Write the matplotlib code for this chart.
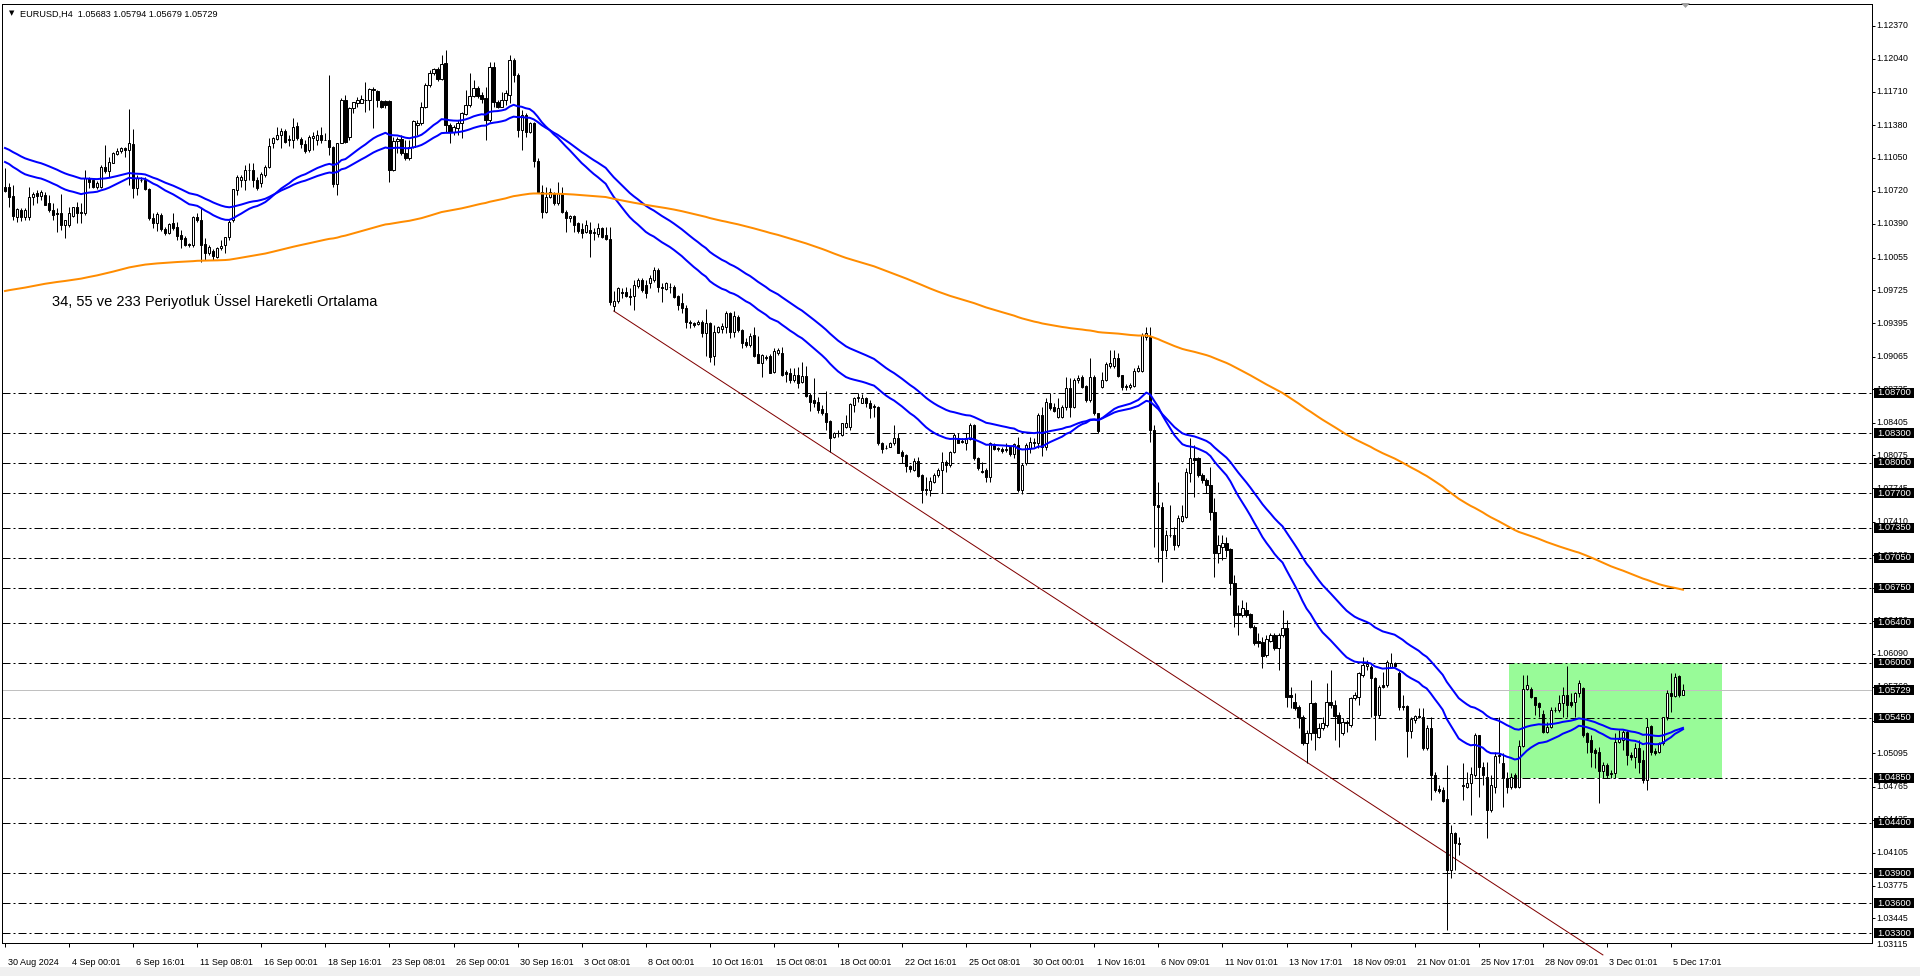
import numpy as np
import matplotlib
matplotlib.use('Agg')
import matplotlib.pyplot as plt
from matplotlib.patches import Rectangle, Polygon
import matplotlib.transforms as mtransforms

plt.rcParams['font.family'] = ['Liberation Sans', 'DejaVu Sans']
plt.rcParams['lines.scale_dashes'] = False

# ---------------- data ----------------
symbol = 'EURUSD,H4'
last_ohlc = [1.05683, 1.05794, 1.05679, 1.05729]
note = '34, 55 ve 233 Periyotluk Üssel Hareketli Ortalama'

opens = [
1.1076, 1.1076, 1.1067, 1.1046, 1.1053, 1.1046, 1.1046, 1.1066, 1.1070, 1.1067,
1.1068, 1.1060, 1.1053, 1.1050, 1.1050, 1.1038, 1.1038, 1.1047, 1.1056, 1.1051,
1.1050, 1.1085, 1.1083, 1.1076, 1.1076, 1.1096, 1.1092, 1.1100, 1.1109, 1.1112,
1.1115, 1.1113, 1.1119, 1.1075, 1.1083, 1.1083, 1.1074, 1.1045, 1.1040, 1.1048,
1.1034, 1.1030, 1.1040, 1.1036, 1.1028, 1.1025, 1.1019, 1.1018, 1.1046, 1.1043,
1.1019, 1.1010, 1.1012, 1.1006, 1.1015, 1.1018, 1.1026, 1.1043, 1.1073, 1.1083,
1.1083, 1.1093, 1.1093, 1.1083, 1.1080, 1.1088, 1.1096, 1.1120, 1.1124, 1.1128,
1.1132, 1.1123, 1.1123, 1.1137, 1.1124, 1.1119, 1.1113, 1.1125, 1.1123, 1.1128,
1.1123, 1.1123, 1.1116, 1.1079, 1.1120, 1.1163, 1.1126, 1.1155, 1.1160, 1.1160,
1.1163, 1.1163, 1.1174, 1.1172, 1.1162, 1.1162, 1.1162, 1.1093, 1.1122, 1.1124,
1.1110, 1.1105, 1.1116, 1.1138, 1.1140, 1.1156, 1.1178, 1.1190, 1.1194, 1.1184,
1.1200, 1.1138, 1.1131, 1.1135, 1.1140, 1.1149, 1.1158, 1.1167, 1.1175, 1.1168,
1.1165, 1.1143, 1.1196, 1.1161, 1.1156, 1.1163, 1.1168, 1.1203, 1.1188, 1.1133,
1.1148, 1.1131, 1.1140, 1.1102, 1.1071, 1.1051, 1.1066, 1.1070, 1.1060, 1.1070,
1.1051, 1.1045, 1.1047, 1.1040, 1.1034, 1.1031, 1.1033, 1.1030, 1.1029, 1.1035,
1.1028, 1.1024, 1.0957, 1.0962, 1.0971, 1.0971, 1.0967, 1.0967, 1.0977, 1.0983,
1.0978, 1.0980, 1.0983, 1.0993, 1.0976, 1.0974, 1.0976, 1.0976, 1.0967, 1.0960,
1.0955, 1.0941, 1.0940, 1.0939, 1.0941, 1.0930, 1.0940, 1.0907, 1.0931, 1.0934,
1.0936, 1.0950, 1.0931, 1.0946, 1.0933, 1.0921, 1.0918, 1.0928, 1.0909, 1.0900,
1.0906, 1.0907, 1.0891, 1.0910, 1.0910, 1.0891, 1.0890, 1.0883, 1.0888, 1.0881,
1.0887, 1.0868, 1.0863, 1.0861, 1.0854, 1.0850, 1.0842, 1.0826, 1.0830, 1.0828,
1.0836, 1.0836, 1.0858, 1.0865, 1.0860, 1.0865, 1.0860, 1.0857, 1.0856, 1.0820,
1.0815, 1.0816, 1.0820, 1.0825, 1.0811, 1.0808, 1.0797, 1.0793, 1.0802, 1.0788,
1.0774, 1.0773, 1.0781, 1.0788, 1.0793, 1.0801, 1.0798, 1.0811, 1.0825, 1.0822,
1.0820, 1.0824, 1.0838, 1.0805, 1.0792, 1.0793, 1.0786, 1.0818, 1.0815, 1.0814,
1.0813, 1.0816, 1.0809, 1.0818, 1.0773, 1.0800, 1.0815, 1.0821, 1.0820, 1.0848,
1.0816, 1.0860, 1.0856, 1.0846, 1.0846, 1.0856, 1.0875, 1.0856, 1.0883, 1.0886,
1.0877, 1.0863, 1.0886, 1.0850, 1.0876, 1.0883, 1.0897, 1.0897, 1.0905, 1.0888,
1.0877, 1.0876, 1.0877, 1.0892, 1.0892, 1.0926, 1.0926, 1.0833, 1.0758, 1.0756,
1.0713, 1.0728, 1.0728, 1.0718, 1.0742, 1.0746, 1.0790, 1.0805, 1.0805, 1.0788,
1.0783, 1.0778, 1.0751, 1.0710, 1.0716, 1.0720, 1.0714, 1.0680, 1.0650, 1.0648,
1.0653, 1.0649, 1.0636, 1.0622, 1.0621, 1.0608, 1.0622, 1.0628, 1.0615, 1.0628,
1.0635, 1.0568, 1.0561, 1.0556, 1.0546, 1.0520, 1.0530, 1.0560, 1.0526, 1.0535,
1.0538, 1.0561, 1.0558, 1.0548, 1.0530, 1.0541, 1.0538, 1.0565, 1.0566, 1.0588,
1.0597, 1.0596, 1.0585, 1.0548, 1.0578, 1.0578, 1.0596, 1.0600, 1.0590, 1.0557,
1.0557, 1.0532, 1.0543, 1.0547, 1.0546, 1.0515, 1.0535, 1.0488, 1.0474, 1.0473,
1.0464, 1.0393, 1.0430, 1.0420, 1.0478, 1.0476, 1.0480, 1.0488, 1.0528, 1.0496,
1.0486, 1.0453, 1.0476, 1.0507, 1.0500, 1.0485, 1.0476, 1.0488, 1.0476, 1.0517,
1.0574, 1.0574, 1.0566, 1.0560, 1.0549, 1.0531, 1.0536, 1.0553, 1.0553, 1.0560,
1.0568, 1.0561, 1.0561, 1.0570, 1.0575, 1.0530, 1.0523, 1.0513, 1.0511, 1.0492,
1.0498, 1.0489, 1.0490, 1.0521, 1.0523, 1.0531, 1.0508, 1.0506, 1.0515, 1.0503,
1.0483, 1.0537, 1.0512, 1.0511, 1.0520, 1.0546, 1.0570, 1.0567, 1.0587, 1.05683]

highs = [
1.1095, 1.1080, 1.1078, 1.1055, 1.1055, 1.1055, 1.1076, 1.1071, 1.1073, 1.1073,
1.1071, 1.1068, 1.1060, 1.1055, 1.1069, 1.1043, 1.1056, 1.1056, 1.1061, 1.1060,
1.1093, 1.1086, 1.1085, 1.1082, 1.1098, 1.1118, 1.1106, 1.1111, 1.1115, 1.1116,
1.1116, 1.1154, 1.1134, 1.1088, 1.1086, 1.1086, 1.1075, 1.1050, 1.1051, 1.1050,
1.1036, 1.1040, 1.1050, 1.1041, 1.1033, 1.1027, 1.1020, 1.1047, 1.1050, 1.1055,
1.1025, 1.1018, 1.1014, 1.1016, 1.1023, 1.1026, 1.1043, 1.1074, 1.1088, 1.1088,
1.1098, 1.1100, 1.1100, 1.1086, 1.1091, 1.1098, 1.1125, 1.1126, 1.1136, 1.1135,
1.1134, 1.1128, 1.1145, 1.1141, 1.1126, 1.1123, 1.1128, 1.1131, 1.1133, 1.1136,
1.1130, 1.1188, 1.1117, 1.1120, 1.1165, 1.1168, 1.1156, 1.1161, 1.1166, 1.1168,
1.1181, 1.1175, 1.1176, 1.1173, 1.1163, 1.1163, 1.1163, 1.1126, 1.1126, 1.1128,
1.1123, 1.1123, 1.1143, 1.1143, 1.1161, 1.1180, 1.1193, 1.1195, 1.1196, 1.1208,
1.1213, 1.1140, 1.1138, 1.1143, 1.1151, 1.1173, 1.1190, 1.1183, 1.1177, 1.1171,
1.1176, 1.1201, 1.1201, 1.1163, 1.1171, 1.1173, 1.1208, 1.1205, 1.1190, 1.1153,
1.1150, 1.1141, 1.1141, 1.1105, 1.1078, 1.1076, 1.1075, 1.1071, 1.1081, 1.1076,
1.1053, 1.1048, 1.1048, 1.1041, 1.1040, 1.1043, 1.1041, 1.1035, 1.1040, 1.1036,
1.1036, 1.1036, 1.0972, 1.0976, 1.0975, 1.0976, 1.0975, 1.0983, 1.0985, 1.0985,
1.0983, 1.0988, 1.0996, 1.0995, 1.0980, 1.0981, 1.0980, 1.0978, 1.0968, 1.0970,
1.0958, 1.0943, 1.0941, 1.0943, 1.0943, 1.0954, 1.0941, 1.0938, 1.0937, 1.0940,
1.0952, 1.0951, 1.0952, 1.0948, 1.0934, 1.0925, 1.0930, 1.0936, 1.0927, 1.0909,
1.0908, 1.0909, 1.0915, 1.0915, 1.0916, 1.0893, 1.0895, 1.0895, 1.0896, 1.0901,
1.0897, 1.0870, 1.0885, 1.0866, 1.0858, 1.0872, 1.0843, 1.0831, 1.0833, 1.0840,
1.0848, 1.0860, 1.0866, 1.0870, 1.0869, 1.0866, 1.0863, 1.0859, 1.0857, 1.0821,
1.0818, 1.0821, 1.0838, 1.0830, 1.0813, 1.0809, 1.0798, 1.0805, 1.0806, 1.0789,
1.0786, 1.0786, 1.0790, 1.0795, 1.0811, 1.0803, 1.0812, 1.0830, 1.0830, 1.0825,
1.0830, 1.0840, 1.0839, 1.0806, 1.0801, 1.0795, 1.0821, 1.0820, 1.0816, 1.0816,
1.0820, 1.0817, 1.0820, 1.0826, 1.0800, 1.0820, 1.0826, 1.0825, 1.0850, 1.0856,
1.0865, 1.0870, 1.0860, 1.0865, 1.0858, 1.0886, 1.0885, 1.0885, 1.0888, 1.0888,
1.0878, 1.0905, 1.0888, 1.0850, 1.0891, 1.0901, 1.0913, 1.0913, 1.0910, 1.0888,
1.0879, 1.0880, 1.0895, 1.0898, 1.0930, 1.0936, 1.0936, 1.0838, 1.0781, 1.0761,
1.0733, 1.0758, 1.0736, 1.0748, 1.0758, 1.0795, 1.0825, 1.0818, 1.0806, 1.0790,
1.0785, 1.0796, 1.0765, 1.0728, 1.0728, 1.0726, 1.0715, 1.0688, 1.0658, 1.0663,
1.0661, 1.0650, 1.0638, 1.0630, 1.0626, 1.0628, 1.0630, 1.0630, 1.0630, 1.0653,
1.0643, 1.0576, 1.0570, 1.0558, 1.0548, 1.0533, 1.0583, 1.0561, 1.0540, 1.0546,
1.0580, 1.0593, 1.0563, 1.0551, 1.0545, 1.0543, 1.0566, 1.0571, 1.0591, 1.0606,
1.0603, 1.0598, 1.0586, 1.0578, 1.0591, 1.0603, 1.0610, 1.0601, 1.0592, 1.0568,
1.0558, 1.0546, 1.0548, 1.0555, 1.0555, 1.0538, 1.0546, 1.0491, 1.0478, 1.0476,
1.0498, 1.0438, 1.0431, 1.0426, 1.0500, 1.0491, 1.0496, 1.0530, 1.0528, 1.0501,
1.0501, 1.0488, 1.0511, 1.0546, 1.0510, 1.0491, 1.0490, 1.0490, 1.0523, 1.0588,
1.0588, 1.0576, 1.0566, 1.0561, 1.0553, 1.0541, 1.0556, 1.0556, 1.0568, 1.0576,
1.0597, 1.0570, 1.0571, 1.0583, 1.0576, 1.0531, 1.0528, 1.0515, 1.0516, 1.0501,
1.0500, 1.0493, 1.0530, 1.0533, 1.0533, 1.0533, 1.0511, 1.0520, 1.0523, 1.0513,
1.0545, 1.0538, 1.0515, 1.0521, 1.0546, 1.0573, 1.0590, 1.0590, 1.0588, 1.05794]

lows = [
1.1071, 1.1056, 1.1043, 1.1041, 1.1042, 1.1043, 1.1043, 1.1058, 1.1060, 1.1063,
1.1058, 1.1051, 1.1043, 1.1031, 1.1033, 1.1025, 1.1036, 1.1046, 1.1040, 1.1040,
1.1048, 1.1075, 1.1075, 1.1074, 1.1075, 1.1090, 1.1086, 1.1100, 1.1108, 1.1110,
1.1106, 1.1078, 1.1065, 1.1068, 1.1081, 1.1073, 1.1043, 1.1035, 1.1032, 1.1032,
1.1028, 1.1029, 1.1033, 1.1023, 1.1015, 1.1017, 1.1016, 1.1016, 1.1041, 1.1001,
1.1003, 1.1008, 1.1003, 1.1005, 1.1013, 1.1010, 1.1023, 1.1041, 1.1068, 1.1076,
1.1073, 1.1083, 1.1076, 1.1073, 1.1076, 1.1086, 1.1095, 1.1115, 1.1123, 1.1115,
1.1120, 1.1117, 1.1115, 1.1123, 1.1115, 1.1110, 1.1111, 1.1113, 1.1118, 1.1120,
1.1123, 1.1108, 1.1076, 1.1068, 1.1120, 1.1120, 1.1123, 1.1150, 1.1156, 1.1160,
1.1151, 1.1153, 1.1135, 1.1156, 1.1155, 1.1155, 1.1081, 1.1092, 1.1110, 1.1108,
1.1103, 1.1103, 1.1115, 1.1128, 1.1138, 1.1155, 1.1176, 1.1188, 1.1182, 1.1183,
1.1131, 1.1120, 1.1128, 1.1128, 1.1125, 1.1148, 1.1156, 1.1166, 1.1165, 1.1160,
1.1123, 1.1141, 1.1156, 1.1155, 1.1156, 1.1158, 1.1160, 1.1181, 1.1126, 1.1113,
1.1126, 1.1130, 1.1096, 1.1070, 1.1045, 1.1050, 1.1065, 1.1058, 1.1058, 1.1050,
1.1031, 1.1041, 1.1031, 1.1030, 1.1025, 1.1030, 1.1006, 1.1023, 1.1026, 1.1025,
1.1023, 1.0958, 1.0952, 1.0960, 1.0965, 1.0966, 1.0958, 1.0953, 1.0975, 1.0971,
1.0965, 1.0975, 1.0981, 1.0971, 1.0961, 1.0973, 1.0970, 1.0965, 1.0953, 1.0950,
1.0935, 1.0935, 1.0936, 1.0938, 1.0926, 1.0907, 1.0901, 1.0898, 1.0930, 1.0930,
1.0930, 1.0925, 1.0926, 1.0931, 1.0915, 1.0916, 1.0916, 1.0906, 1.0900, 1.0886,
1.0903, 1.0890, 1.0890, 1.0908, 1.0887, 1.0881, 1.0880, 1.0881, 1.0875, 1.0880,
1.0866, 1.0852, 1.0856, 1.0850, 1.0848, 1.0833, 1.0811, 1.0825, 1.0826, 1.0827,
1.0835, 1.0833, 1.0851, 1.0861, 1.0860, 1.0856, 1.0845, 1.0846, 1.0818, 1.0810,
1.0814, 1.0816, 1.0818, 1.0810, 1.0800, 1.0791, 1.0791, 1.0792, 1.0786, 1.0760,
1.0768, 1.0767, 1.0780, 1.0786, 1.0770, 1.0791, 1.0796, 1.0810, 1.0820, 1.0820,
1.0813, 1.0823, 1.0803, 1.0793, 1.0790, 1.0781, 1.0781, 1.0813, 1.0812, 1.0810,
1.0811, 1.0807, 1.0805, 1.0771, 1.0769, 1.0798, 1.0810, 1.0816, 1.0815, 1.0807,
1.0813, 1.0853, 1.0851, 1.0845, 1.0845, 1.0853, 1.0846, 1.0855, 1.0880, 1.0875,
1.0861, 1.0861, 1.0848, 1.0830, 1.0875, 1.0882, 1.0895, 1.0895, 1.0886, 1.0873,
1.0873, 1.0874, 1.0876, 1.0891, 1.0891, 1.0923, 1.0821, 1.0716, 1.0701, 1.0681,
1.0706, 1.0726, 1.0713, 1.0716, 1.0741, 1.0745, 1.0781, 1.0766, 1.0786, 1.0780,
1.0770, 1.0743, 1.0686, 1.0700, 1.0703, 1.0706, 1.0668, 1.0636, 1.0628, 1.0646,
1.0646, 1.0635, 1.0618, 1.0616, 1.0595, 1.0606, 1.0621, 1.0613, 1.0593, 1.0626,
1.0556, 1.0555, 1.0553, 1.0535, 1.0518, 1.0500, 1.0523, 1.0513, 1.0525, 1.0533,
1.0536, 1.0555, 1.0523, 1.0516, 1.0528, 1.0531, 1.0536, 1.0563, 1.0558, 1.0586,
1.0593, 1.0546, 1.0523, 1.0545, 1.0575, 1.0576, 1.0595, 1.0596, 1.0553, 1.0553,
1.0506, 1.0525, 1.0540, 1.0545, 1.0513, 1.0513, 1.0463, 1.0471, 1.0470, 1.0461,
1.0333, 1.0385, 1.0393, 1.0408, 1.0463, 1.0475, 1.0448, 1.0486, 1.0466, 1.0478,
1.0425, 1.0451, 1.0470, 1.0500, 1.0456, 1.0470, 1.0474, 1.0475, 1.0475, 1.0516,
1.0573, 1.0565, 1.0548, 1.0546, 1.0530, 1.0530, 1.0535, 1.0551, 1.0551, 1.0546,
1.0546, 1.0556, 1.0546, 1.0566, 1.0526, 1.0510, 1.0496, 1.0495, 1.0460, 1.0485,
1.0485, 1.0485, 1.0485, 1.0520, 1.0513, 1.0498, 1.0503, 1.0495, 1.0490, 1.0480,
1.0473, 1.0508, 1.0508, 1.0510, 1.0518, 1.0543, 1.0551, 1.0566, 1.0566, 1.05679]

closes = [
1.1072, 1.1066, 1.1047, 1.1054, 1.1046, 1.1053, 1.1066, 1.1069, 1.1067, 1.1071,
1.1058, 1.1053, 1.1048, 1.1049, 1.1038, 1.1043, 1.1050, 1.1056, 1.1050, 1.1050,
1.1085, 1.1081, 1.1076, 1.1080, 1.1096, 1.1092, 1.1101, 1.1110, 1.1112, 1.1115,
1.1113, 1.1120, 1.1075, 1.1085, 1.1083, 1.1074, 1.1045, 1.1040, 1.1049, 1.1034,
1.1030, 1.1039, 1.1035, 1.1027, 1.1024, 1.1018, 1.1018, 1.1046, 1.1043, 1.1018,
1.1010, 1.1016, 1.1007, 1.1015, 1.1017, 1.1026, 1.1041, 1.1074, 1.1086, 1.1086,
1.1093, 1.1093, 1.1083, 1.1075, 1.1089, 1.1096, 1.1117, 1.1125, 1.1128, 1.1132,
1.1121, 1.1124, 1.1136, 1.1125, 1.1119, 1.1112, 1.1126, 1.1127, 1.1128, 1.1123,
1.1123, 1.1116, 1.1079, 1.1120, 1.1163, 1.1121, 1.1155, 1.1161, 1.1163, 1.1164,
1.1163, 1.1174, 1.1173, 1.1163, 1.1156, 1.1158, 1.1093, 1.1122, 1.1124, 1.1110,
1.1105, 1.1116, 1.1142, 1.1140, 1.1156, 1.1178, 1.1190, 1.1194, 1.1184, 1.1199,
1.1138, 1.1131, 1.1136, 1.1140, 1.1150, 1.1158, 1.1167, 1.1175, 1.1167, 1.1164,
1.1143, 1.1196, 1.1161, 1.1156, 1.1163, 1.1170, 1.1203, 1.1188, 1.1133, 1.1148,
1.1131, 1.1140, 1.1102, 1.1071, 1.1051, 1.1066, 1.1071, 1.1060, 1.1070, 1.1051,
1.1045, 1.1047, 1.1038, 1.1032, 1.1030, 1.1038, 1.1030, 1.1031, 1.1035, 1.1026,
1.1024, 1.0961, 1.0962, 1.0975, 1.0970, 1.0967, 1.0966, 1.0978, 1.0983, 1.0973,
1.0970, 1.0985, 1.0993, 1.0976, 1.0975, 1.0980, 1.0976, 1.0966, 1.0958, 1.0955,
1.0941, 1.0940, 1.0938, 1.0941, 1.0930, 1.0940, 1.0906, 1.0931, 1.0936, 1.0937,
1.0950, 1.0931, 1.0947, 1.0933, 1.0920, 1.0918, 1.0927, 1.0907, 1.0900, 1.0908,
1.0905, 1.0890, 1.0912, 1.0913, 1.0888, 1.0889, 1.0883, 1.0888, 1.0880, 1.0887,
1.0867, 1.0861, 1.0860, 1.0853, 1.0850, 1.0841, 1.0825, 1.0830, 1.0830, 1.0840,
1.0840, 1.0859, 1.0865, 1.0866, 1.0865, 1.0860, 1.0855, 1.0856, 1.0820, 1.0814,
1.0815, 1.0820, 1.0825, 1.0810, 1.0807, 1.0797, 1.0794, 1.0802, 1.0787, 1.0773,
1.0773, 1.0782, 1.0788, 1.0793, 1.0801, 1.0798, 1.0811, 1.0828, 1.0820, 1.0821,
1.0825, 1.0838, 1.0805, 1.0795, 1.0791, 1.0786, 1.0820, 1.0814, 1.0814, 1.0812,
1.0814, 1.0809, 1.0819, 1.0773, 1.0798, 1.0818, 1.0821, 1.0820, 1.0848, 1.0816,
1.0861, 1.0855, 1.0852, 1.0855, 1.0856, 1.0875, 1.0856, 1.0883, 1.0885, 1.0876,
1.0863, 1.0886, 1.0850, 1.0832, 1.0883, 1.0899, 1.0900, 1.0905, 1.0887, 1.0876,
1.0876, 1.0878, 1.0892, 1.0895, 1.0928, 1.0930, 1.0833, 1.0758, 1.0756, 1.0713,
1.0728, 1.0728, 1.0718, 1.0745, 1.0747, 1.0791, 1.0805, 1.0803, 1.0788, 1.0783,
1.0778, 1.0751, 1.0710, 1.0718, 1.0720, 1.0713, 1.0680, 1.0648, 1.0648, 1.0655,
1.0648, 1.0636, 1.0620, 1.0620, 1.0607, 1.0624, 1.0628, 1.0615, 1.0628, 1.0635,
1.0566, 1.0566, 1.0555, 1.0546, 1.0520, 1.0530, 1.0560, 1.0530, 1.0535, 1.0540,
1.0561, 1.0558, 1.0547, 1.0540, 1.0541, 1.0540, 1.0565, 1.0568, 1.0590, 1.0598,
1.0599, 1.0585, 1.0548, 1.0576, 1.0576, 1.0601, 1.0600, 1.0597, 1.0556, 1.0556,
1.0532, 1.0544, 1.0547, 1.0546, 1.0515, 1.0535, 1.0488, 1.0473, 1.0472, 1.0462,
1.0393, 1.0430, 1.0420, 1.0419, 1.0477, 1.0480, 1.0489, 1.0528, 1.0496, 1.0488,
1.0453, 1.0478, 1.0507, 1.0508, 1.0485, 1.0476, 1.0486, 1.0476, 1.0517, 1.0574,
1.0578, 1.0566, 1.0558, 1.0556, 1.0531, 1.0536, 1.0553, 1.0553, 1.0560, 1.0568,
1.0558, 1.0558, 1.0570, 1.0580, 1.0528, 1.0521, 1.0511, 1.0510, 1.0492, 1.0498,
1.0488, 1.0490, 1.0521, 1.0524, 1.0531, 1.0508, 1.0506, 1.0515, 1.0501, 1.0483,
1.0536, 1.0511, 1.0510, 1.0520, 1.0546, 1.0570, 1.0567, 1.0586, 1.0568, 1.05729]

date_labels = ['30 Aug 2024', '4 Sep 00:01', '6 Sep 16:01', '11 Sep 08:01', '16 Sep 00:01',
               '18 Sep 16:01', '23 Sep 08:01', '26 Sep 00:01', '30 Sep 16:01', '3 Oct 08:01',
               '8 Oct 00:01', '10 Oct 16:01', '15 Oct 08:01', '18 Oct 00:01', '22 Oct 16:01',
               '25 Oct 08:01', '30 Oct 00:01', '1 Nov 16:01', '6 Nov 09:01', '11 Nov 01:01',
               '13 Nov 17:01', '18 Nov 09:01', '21 Nov 01:01', '25 Nov 17:01', '28 Nov 09:01',
               '3 Dec 01:01', '5 Dec 17:01']
bars_per_label = 16

price_ticks = [1.12370, 1.12040, 1.11710, 1.11380, 1.11050, 1.10720, 1.10390, 1.10055,
               1.09725, 1.09395, 1.09065, 1.08735, 1.08405, 1.08075, 1.07745, 1.07410,
               1.07080, 1.06750, 1.06420, 1.06090, 1.05760, 1.05425, 1.05095, 1.04765,
               1.04435, 1.04105, 1.03775, 1.03445, 1.03115]

level_lines = [1.08700, 1.08300, 1.08000, 1.07700, 1.07350, 1.07050, 1.06750, 1.06400,
               1.06000, 1.05450, 1.04850, 1.04400, 1.03900, 1.03600, 1.03300]
bid_price = 1.05729

ema_periods = [34, 55, 233]
ema_first = [1.1101, 1.1115, 1.0972]      # EMA values at the first bar
ema_colors = ['#0000FF', '#0000FF', '#FF8C00']

trend_bars = [152, 325]
trend_prices = [1.0952, 1.0501]
trend_end_bar = 399                        # the ray stops at the bottom of the window

zone_bars = [375.5, 428.7]
zone_prices = [1.0485, 1.0600]

# ---------------- figure ----------------
W, H, DPI = 1920, 976, 100
fig = plt.figure(figsize=(W / DPI, H / DPI), dpi=DPI)
fig.patch.set_facecolor('white')
L_PX, R_PX, T_PX, B_PX = 2, 1872, 4, 943
ax = fig.add_axes([L_PX / W, 1 - B_PX / H, (R_PX - L_PX) / W, (B_PX - T_PX) / H])
PX = 72.0 / DPI  # one pixel in points

O = np.array(opens); Hi = np.array(highs); Lo = np.array(lows); C = np.array(closes)
n = len(C)
x = np.arange(n)

Y0, Y1 = 1.0320, 1.1259
ax.set_xlim(-0.75, 466.2)
ax.set_ylim(Y0, Y1)
px_price = (Y1 - Y0) / (B_PX - T_PX)   # price per pixel

# zone rectangle
ax.add_patch(Rectangle((zone_bars[0], zone_prices[0]), zone_bars[1] - zone_bars[0],
                       zone_prices[1] - zone_prices[0], facecolor='#98FB98',
                       edgecolor='none', zorder=1))

# bid line
ax.axhline(bid_price, color='#C0C0C0', lw=PX, zorder=1.5)

# horizontal levels (dash-dot)
for lv in level_lines:
    ax.axhline(lv, color='black', lw=PX, zorder=2,
               dashes=(8 * PX, 3 * PX, 2 * PX, 3 * PX))

# trend line (ray to the right, runs past the plot bottom into the time scale)
slope = (trend_prices[1] - trend_prices[0]) / (trend_bars[1] - trend_bars[0])
ax.plot([trend_bars[0], trend_end_bar],
        [trend_prices[0], trend_prices[0] + slope * (trend_end_bar - trend_bars[0])],
        color='#800000', lw=PX, zorder=2.5, clip_on=False)

# candles
ax.vlines(x, Lo, Hi, color='black', lw=PX, zorder=3)
up = C >= O
bw = 0.55
ax.bar(x[up], (C - O)[up], bottom=O[up], width=bw, facecolor='white',
       edgecolor='black', linewidth=PX, zorder=4)
ax.bar(x[~up], (O - C)[~up], bottom=C[~up], width=bw, facecolor='black',
       edgecolor='black', linewidth=PX, zorder=4)

# EMAs
for per, first, col in zip(ema_periods, ema_first, ema_colors):
    a = 2.0 / (per + 1)
    e = [first]
    for v in C[1:]:
        e.append(e[-1] + a * (v - e[-1]))
    ax.plot(x, e, color=col, lw=2 * PX, zorder=5)

# axes styling
for sp in ax.spines.values():
    sp.set_color('black')
    sp.set_linewidth(PX)
ax.set_facecolor('none')

ax.set_xticks(np.arange(0, len(date_labels) * bars_per_label, bars_per_label))
ax.set_xticklabels(date_labels)
ax.tick_params(axis='x', direction='out', length=4 * PX, width=PX, pad=8.0,
               labelsize=6.5, colors='black')
off = mtransforms.ScaledTranslation(2.5 / DPI, 0, fig.dpi_scale_trans)
for lbl in ax.get_xticklabels():
    lbl.set_horizontalalignment('left')
    lbl.set_transform(lbl.get_transform() + off)

ax.yaxis.tick_right()
ax.set_yticks([v for v in price_ticks if v >= Y0])
ax.set_yticklabels([])
ax.tick_params(axis='y', direction='out', length=3 * PX, width=PX)

blend = mtransforms.blended_transform_factory(ax.transAxes, ax.transData)
lab_x = (1876 - L_PX) / (R_PX - L_PX)
for v in price_ticks:
    yv = max(v, Y0 - 2 * px_price)
    ax.text(lab_x, yv, '%.5f' % v, transform=blend, ha='left', va='center',
            fontsize=6.3, color='black', clip_on=False, zorder=6)

box_x0 = (1874 - L_PX) / (R_PX - L_PX)
box_w = 40.0 / (R_PX - L_PX)
box_h = 10 * px_price
for v in level_lines + [bid_price]:
    ax.add_patch(Rectangle((box_x0, v - box_h / 2), box_w, box_h, transform=blend,
                           facecolor='black', edgecolor='none', clip_on=False, zorder=7))
    ax.text(box_x0 + box_w / 2, v, '%.5f' % v, transform=blend, ha='center',
            va='center', fontsize=6.7, color='white', clip_on=False, zorder=8)

# header and note
fig.text(9 / W, 1 - 13.5 / H, '\u25BC', fontsize=5, family='DejaVu Sans',
         va='center', ha='left', color='black')
fig.text(20.5 / W, 1 - 16.8 / H,
         symbol + '  ' + ' '.join('%.5f' % v for v in last_ohlc),
         fontsize=6.6, va='baseline', ha='left', color='black')
fig.text(52.5 / W, 1 - 306 / H, note, fontsize=10.5, va='baseline', ha='left',
         color='black')

# chart-shift marker and bottom strip
fig.patches.append(Polygon([[1681 / W, 1 - 3 / H], [1690 / W, 1 - 3 / H], [1685.5 / W, 1 - 8 / H]],
                           closed=True, transform=fig.transFigure, facecolor='#A0A0A0',
                           edgecolor='none'))
fig.patches.append(Rectangle((0, 0), 1, 9 / H, transform=fig.transFigure,
                             facecolor='#F0F0F0', edgecolor='none'))

fig.savefig('out.png', dpi=DPI)
